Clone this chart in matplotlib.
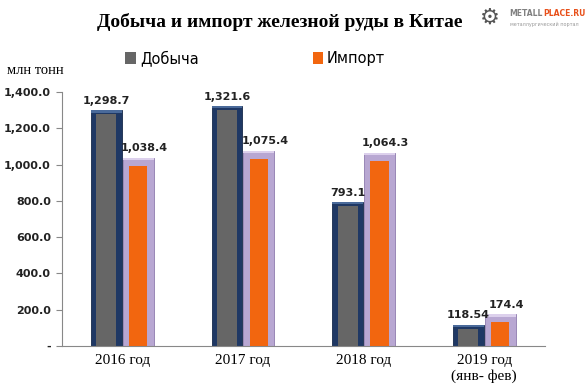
import numpy as np
import matplotlib.pyplot as plt
from matplotlib.patches import Patch

years = ["2016 год", "2017 год", "2018 год", "2019 год\n(янв- фев)"]
mining = [1298.7, 1321.6, 793.1, 118.54]
imports = [1038.4, 1075.4, 1064.3, 174.4]
yticks = [0, 200, 400, 600, 800, 1000, 1200, 1400]

serif = "Liberation Serif"
sans = "DejaVu Sans"

fig = plt.figure(figsize=(5.87, 3.92), dpi=100)
ax = fig.add_axes([0.1056, 0.1173, 0.822, 0.648])

x = np.arange(len(years))
w = 0.256
off = w / 2 + 0.004

# outer frames
ax.bar(x - off, mining, w, color="#1F3864", edgecolor="#16294A", linewidth=0.6, zorder=2)
ax.bar(x + off, imports, w, color="#B8A7D2", edgecolor="#8E7BAE", linewidth=0.6, zorder=2)
# lighter top rims (bevel)
ax.bar(x - off, [12] * len(x), w, bottom=np.array(mining) - 12, color="#4A6A9A", zorder=2.5)
ax.bar(x + off, [14] * len(x), w, bottom=np.array(imports) - 14, color="#DCD0EC", zorder=2.5)
# inner fills
ax.bar(x - off, np.array(mining) - 22, 0.165, color="#666666", zorder=3)
ax.bar(x + off, np.array(imports) - 44, 0.15, color="#F2660F", zorder=3)

for xi, v in zip(x - off, mining):
    ax.text(xi, v + 25, f"{v:,}", ha="center", va="bottom", fontsize=8,
            fontweight="bold", family=sans, color="#222222")
for xi, v in zip(x + off, imports):
    ax.text(xi + 0.05, v + 25, f"{v:,}", ha="center", va="bottom", fontsize=8,
            fontweight="bold", family=sans, color="#222222")

ax.set_xlim(-0.5, len(years) - 0.5)
ax.set_ylim(0, 1400)
ax.set_yticks(yticks)
ax.set_yticklabels(["-"] + [f"{t:,.1f}" for t in yticks[1:]],
                   fontsize=8, fontweight="bold", family=sans, color="#222222")
ax.set_xticks(x)
ax.set_xticklabels(years, fontsize=11, family=serif)
ax.tick_params(axis="x", length=0, pad=6)
ax.tick_params(axis="y", length=4, color="#888888", direction="out", pad=4)
for s in ["top", "right"]:
    ax.spines[s].set_visible(False)
for s in ["left", "bottom"]:
    ax.spines[s].set_color("#888888")

fig.text(0.477, 0.945, "Добыча и импорт железной руды в Китае", ha="center", va="center",
         fontsize=14, fontweight="bold", family=serif)
fig.text(0.012, 0.82, "млн тонн", ha="left", va="center", fontsize=10.5, family=serif)

handles = [Patch(facecolor="#666666"), Patch(facecolor="#F2660F")]
fig.legend(handles, ["Добыча", "Импорт"], loc="center", bbox_to_anchor=(0.435, 0.852),
           ncol=2, frameon=False, handlelength=0.7, handleheight=0.9, handletextpad=0.3,
           columnspacing=7.8, prop={"family": sans, "size": 10.5})

# logo
t1 = fig.text(0.868, 0.965, "METALL", ha="left", va="center", fontsize=5.5, fontweight="bold",
              color="#808080", family=sans)
fig.canvas.draw()
bb = t1.get_window_extent().transformed(fig.transFigure.inverted())
fig.text(bb.x1, 0.965, "PLACE.RU", ha="left", va="center", fontsize=5.5, fontweight="bold",
         color="#E8501A", family=sans)
fig.text(0.868, 0.937, "металлургический портал", ha="left", va="center", fontsize=3.5,
         color="#999999", family=sans)
fig.text(0.835, 0.955, "\u2699", ha="center", va="center", fontsize=16, color="#555555", family=sans)

fig.savefig("out.png", dpi=100)
